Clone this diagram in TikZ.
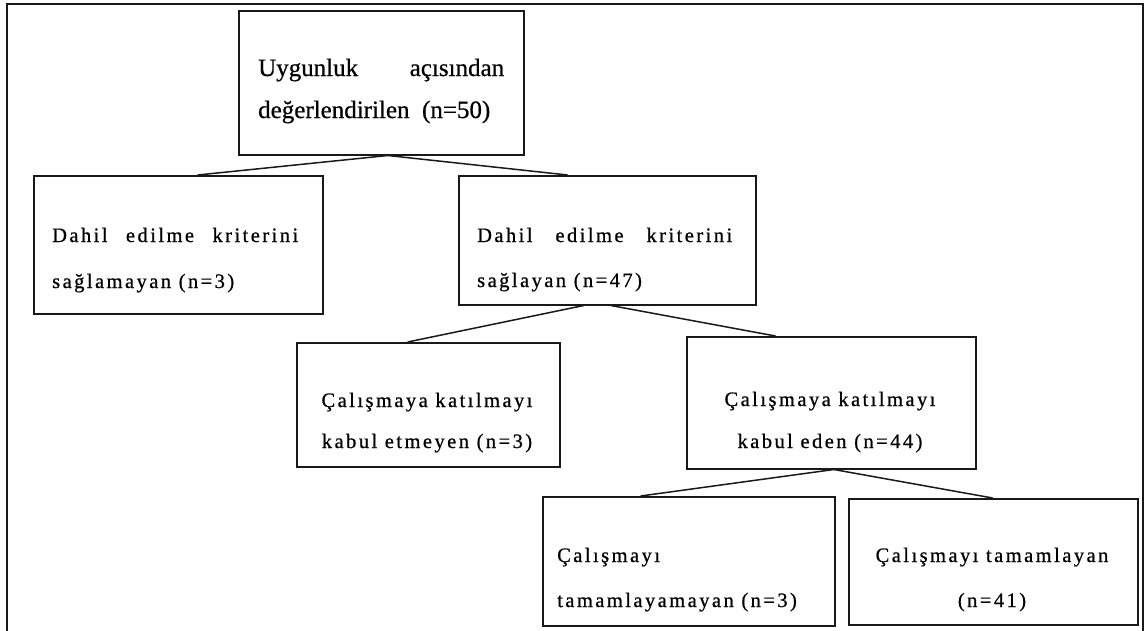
\documentclass[tikz,border=0pt]{standalone}
\usepackage{fontspec}
\setmainfont{Liberation Serif}[FakeBold=0.6]
\newfontfamily\bigfont[FakeBold=0.6]{Liberation Serif}
\newfontfamily\spfont[LetterSpace=12,FakeBold=0.7]{Liberation Serif}
\usetikzlibrary{calc}
\begin{document}
\begin{tikzpicture}[x=1pt,y=-1pt,
  box/.style={draw=black!90, line width=1.5pt, inner sep=0pt, anchor=north west},
  link/.style={draw=black!90, line width=1.5pt},
  frame/.style={draw=black!90, line width=1.6pt},
  big/.style={inner sep=0pt, text=black, font=\bigfont\fontsize{25}{30}\selectfont},
  small/.style={inner sep=0pt, text=black, font=\spfont\fontsize{20.5}{24}\selectfont}]
\useasboundingbox (0,0) rectangle (1144,630);
\coordinate (fbl) at (7,640);
\coordinate (ftl) at (7,4);
\coordinate (ftr) at (1143,4);
\coordinate (fbr) at (1143,640);
\draw[frame] (fbl) -- (ftl) -- (ftr) -- (fbr);

% boxes
\node[box, minimum width=285pt, minimum height=144pt] (root) at (238,10) {};
\node[box, minimum width=289pt, minimum height=138pt] (l1) at (33,175) {};
\node[box, minimum width=297pt, minimum height=129pt] (r1) at (458,175) {};
\node[box, minimum width=263pt, minimum height=124pt] (l2) at (296,342) {};
\node[box, minimum width=289pt, minimum height=132pt] (r2) at (686,336) {};
\node[box, minimum width=292pt, minimum height=129pt] (l3) at (542,496) {};
\node[box, minimum width=289pt, minimum height=126pt] (r3) at (848,498) {};

% texts
\node[big, anchor=base west] (root-a) at (258,76) {\makebox[246pt][s]{Uygunluk açısından}};
\node[big, anchor=base west] (root-b) at (258,118) {değerlendirilen\ \ (n=50)};

\node[small, anchor=base west] (l1-a) at (52,242) {\makebox[246pt][s]{Dahil edilme kriterini}};
\node[small, anchor=base west] (l1-b) at (52,288) {sağlamayan (n=3)};

\node[small, anchor=base west] (r1-a) at (477,242) {\makebox[255pt][s]{Dahil edilme kriterini}};
\node[small, anchor=base west] (r1-b) at (477,287) {sağlayan (n=47)};

\node[small, anchor=base] (l2-a) at (427,407) {Çalışmaya katılmayı};
\node[small, anchor=base] (l2-b) at (427,448) {kabul etmeyen (n=3)};

\node[small, anchor=base] (r2-a) at (830,406) {Çalışmaya katılmayı};
\node[small, anchor=base] (r2-b) at (830,448) {kabul eden (n=44)};

\node[small, anchor=base west] (l3-a) at (557,562) {Çalışmayı};
\node[small, anchor=base west] (l3-b) at (557,607) {tamamlayamayan (n=3)};

\node[small, anchor=base] (r3-a) at (992,562) {Çalışmayı tamamlayan};
\node[small, anchor=base] (r3-b) at (992,607) {(n=41)};

% connectors
\draw[link] ($(root.south west)!0.523!(root.south east)$) -- ($(l1.north west)!0.567!(l1.north east)$);
\draw[link] ($(root.south west)!0.523!(root.south east)$) -- ($(r1.north west)!0.367!(r1.north east)$);
\draw[link] ($(r1.south west)!0.421!(r1.south east)$) -- ($(l2.north west)!0.422!(l2.north east)$);
\draw[link] ($(r1.south west)!0.512!(r1.south east)$) -- ($(r2.north west)!0.308!(r2.north east)$);
\draw[link] ($(r2.south west)!0.509!(r2.south east)$) -- ($(l3.north west)!0.336!(l3.north east)$);
\draw[link] ($(r2.south west)!0.509!(r2.south east)$) -- ($(r3.north west)!0.498!(r3.north east)$);
\end{tikzpicture}
\end{document}
